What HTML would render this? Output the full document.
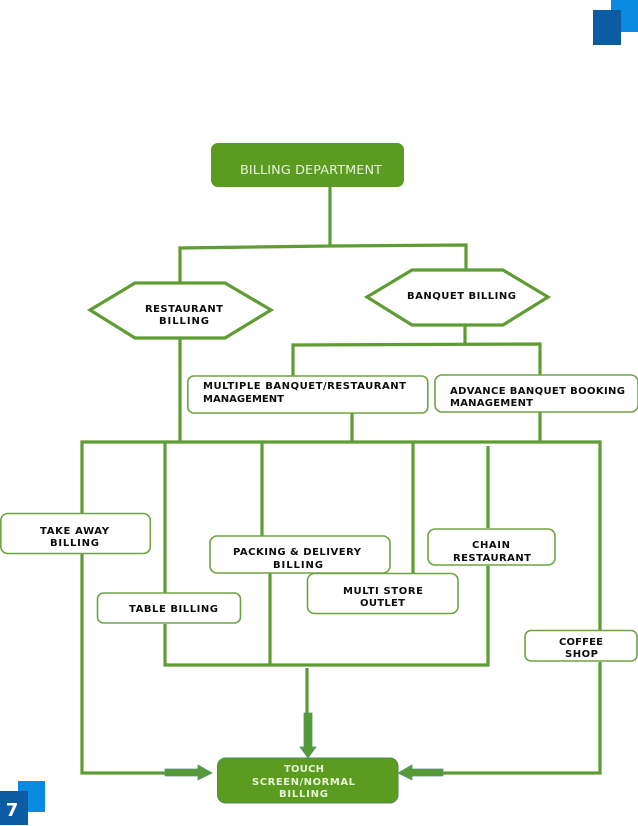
<!DOCTYPE html>
<html>
<head>
<meta charset="utf-8">
<style>
html,body{margin:0;padding:0;background:#fff;width:638px;height:826px;overflow:hidden}
svg{display:block}
text{font-family:"DejaVu Sans","Liberation Sans",sans-serif;font-weight:bold;font-size:10px;fill:#0c0c0c}
.l{fill:none;stroke:#5f9c33;stroke-width:3.2}
.b{fill:#fff;stroke:#6ea344;stroke-width:1.6}
.g{fill:#e8f3d8}
.a{fill:#569a35;stroke:#5a9378;stroke-width:.8}
</style>
</head>
<body>
<svg width="638" height="826" viewBox="0 0 638 826" xmlns="http://www.w3.org/2000/svg">
<rect x="611" y="0" width="27" height="32" fill="#0a8ae0"/>
<rect x="593" y="10" width="28" height="35" fill="#0c5ca4"/>
<rect x="18" y="781" width="27" height="31" fill="#0a8ae0"/>
<rect x="0" y="791" width="28" height="34" fill="#0c5ca4"/>
<text x="12" y="816" text-anchor="middle" style="font-size:18px;fill:#fff">7</text>

<path class="l" d="M330 187V246M180 283V248L330 246L466 245V270"/>
<path class="l" d="M180 338V442M465 325V344M293 376V345L540 344V375M352 413V442M540 412V442"/>
<path class="l" d="M82 513V442H600V630M165 442V593M262 442V536M413 442V573M488 446V528"/>
<path class="l" d="M82 554V773H165M165 624V665H488V566M270 573V665M600 662V773H443M307 668V713"/>

<polygon points="90,310 135,283 225,283 271,310 225,338 135,338" fill="#fff" stroke="#5f9c33" stroke-width="3.2"/>
<polygon points="367,297 412,270 503,270 548,297 503,325 412,325" fill="#fff" stroke="#5f9c33" stroke-width="3.2"/>

<rect x="211" y="143" width="193" height="44" rx="7" fill="#5a9b20"/>
<text x="240" y="174" textLength="142" style="font-weight:normal;font-size:12.8px;fill:#eaf4dc">BILLING DEPARTMENT</text>

<rect class="b" x="187.8" y="376" width="240" height="37" rx="6"/>
<rect class="b" x="435" y="375" width="203" height="37" rx="7"/>
<rect class="b" x="0.8" y="513.5" width="149.5" height="40" rx="7"/>
<rect class="b" x="97.5" y="593" width="143" height="30" rx="6"/>
<rect class="b" x="210" y="536" width="180" height="37" rx="7"/>
<rect class="b" x="307.5" y="573.5" width="150.5" height="40" rx="7"/>
<rect class="b" x="428" y="529" width="127" height="36" rx="7"/>
<rect class="b" x="525" y="630.5" width="112" height="30.5" rx="6"/>

<text x="145" y="312" textLength="78">RESTAURANT</text>
<text x="159" y="324" textLength="50">BILLING</text>
<text x="407" y="299" textLength="109">BANQUET BILLING</text>
<text x="203" y="389" textLength="203">MULTIPLE BANQUET/RESTAURANT</text>
<text x="203" y="402" textLength="81">MANAGEMENT</text>
<text x="450" y="394" textLength="175">ADVANCE BANQUET BOOKING</text>
<text x="450" y="406" textLength="83">MANAGEMENT</text>
<text x="40" y="534" textLength="69">TAKE AWAY</text>
<text x="50" y="546" textLength="49">BILLING</text>
<text x="233" y="555" textLength="128">PACKING &amp; DELIVERY</text>
<text x="273" y="568" textLength="50">BILLING</text>
<text x="129" y="612" textLength="89">TABLE BILLING</text>
<text x="343" y="594" textLength="80">MULTI STORE</text>
<text x="360" y="606" textLength="45">OUTLET</text>
<text x="472" y="548" textLength="38">CHAIN</text>
<text x="453" y="561" textLength="78">RESTAURANT</text>
<text x="559" y="645" textLength="44">COFFEE</text>
<text x="565" y="657" textLength="33">SHOP</text>

<rect x="217.5" y="758" width="180.5" height="45" rx="8" fill="#5a9b20" stroke="#4f8a5f" stroke-width="1"/>
<text x="284" y="772" textLength="40" class="g">TOUCH</text>
<text x="252" y="785" textLength="103" class="g">SCREEN/NORMAL</text>
<text x="279" y="797" textLength="49" class="g">BILLING</text>

<polygon class="a" points="304,713 312,713 312,747 316,747 308,758 300,747 304,747"/>
<polygon class="a" points="165,769 198,769 198,765 212,773 198,780 198,776 165,776"/>
<polygon class="a" points="443,769 412,769 412,765 398,773 412,780 412,776 443,776"/>
</svg>
</body>
</html>
